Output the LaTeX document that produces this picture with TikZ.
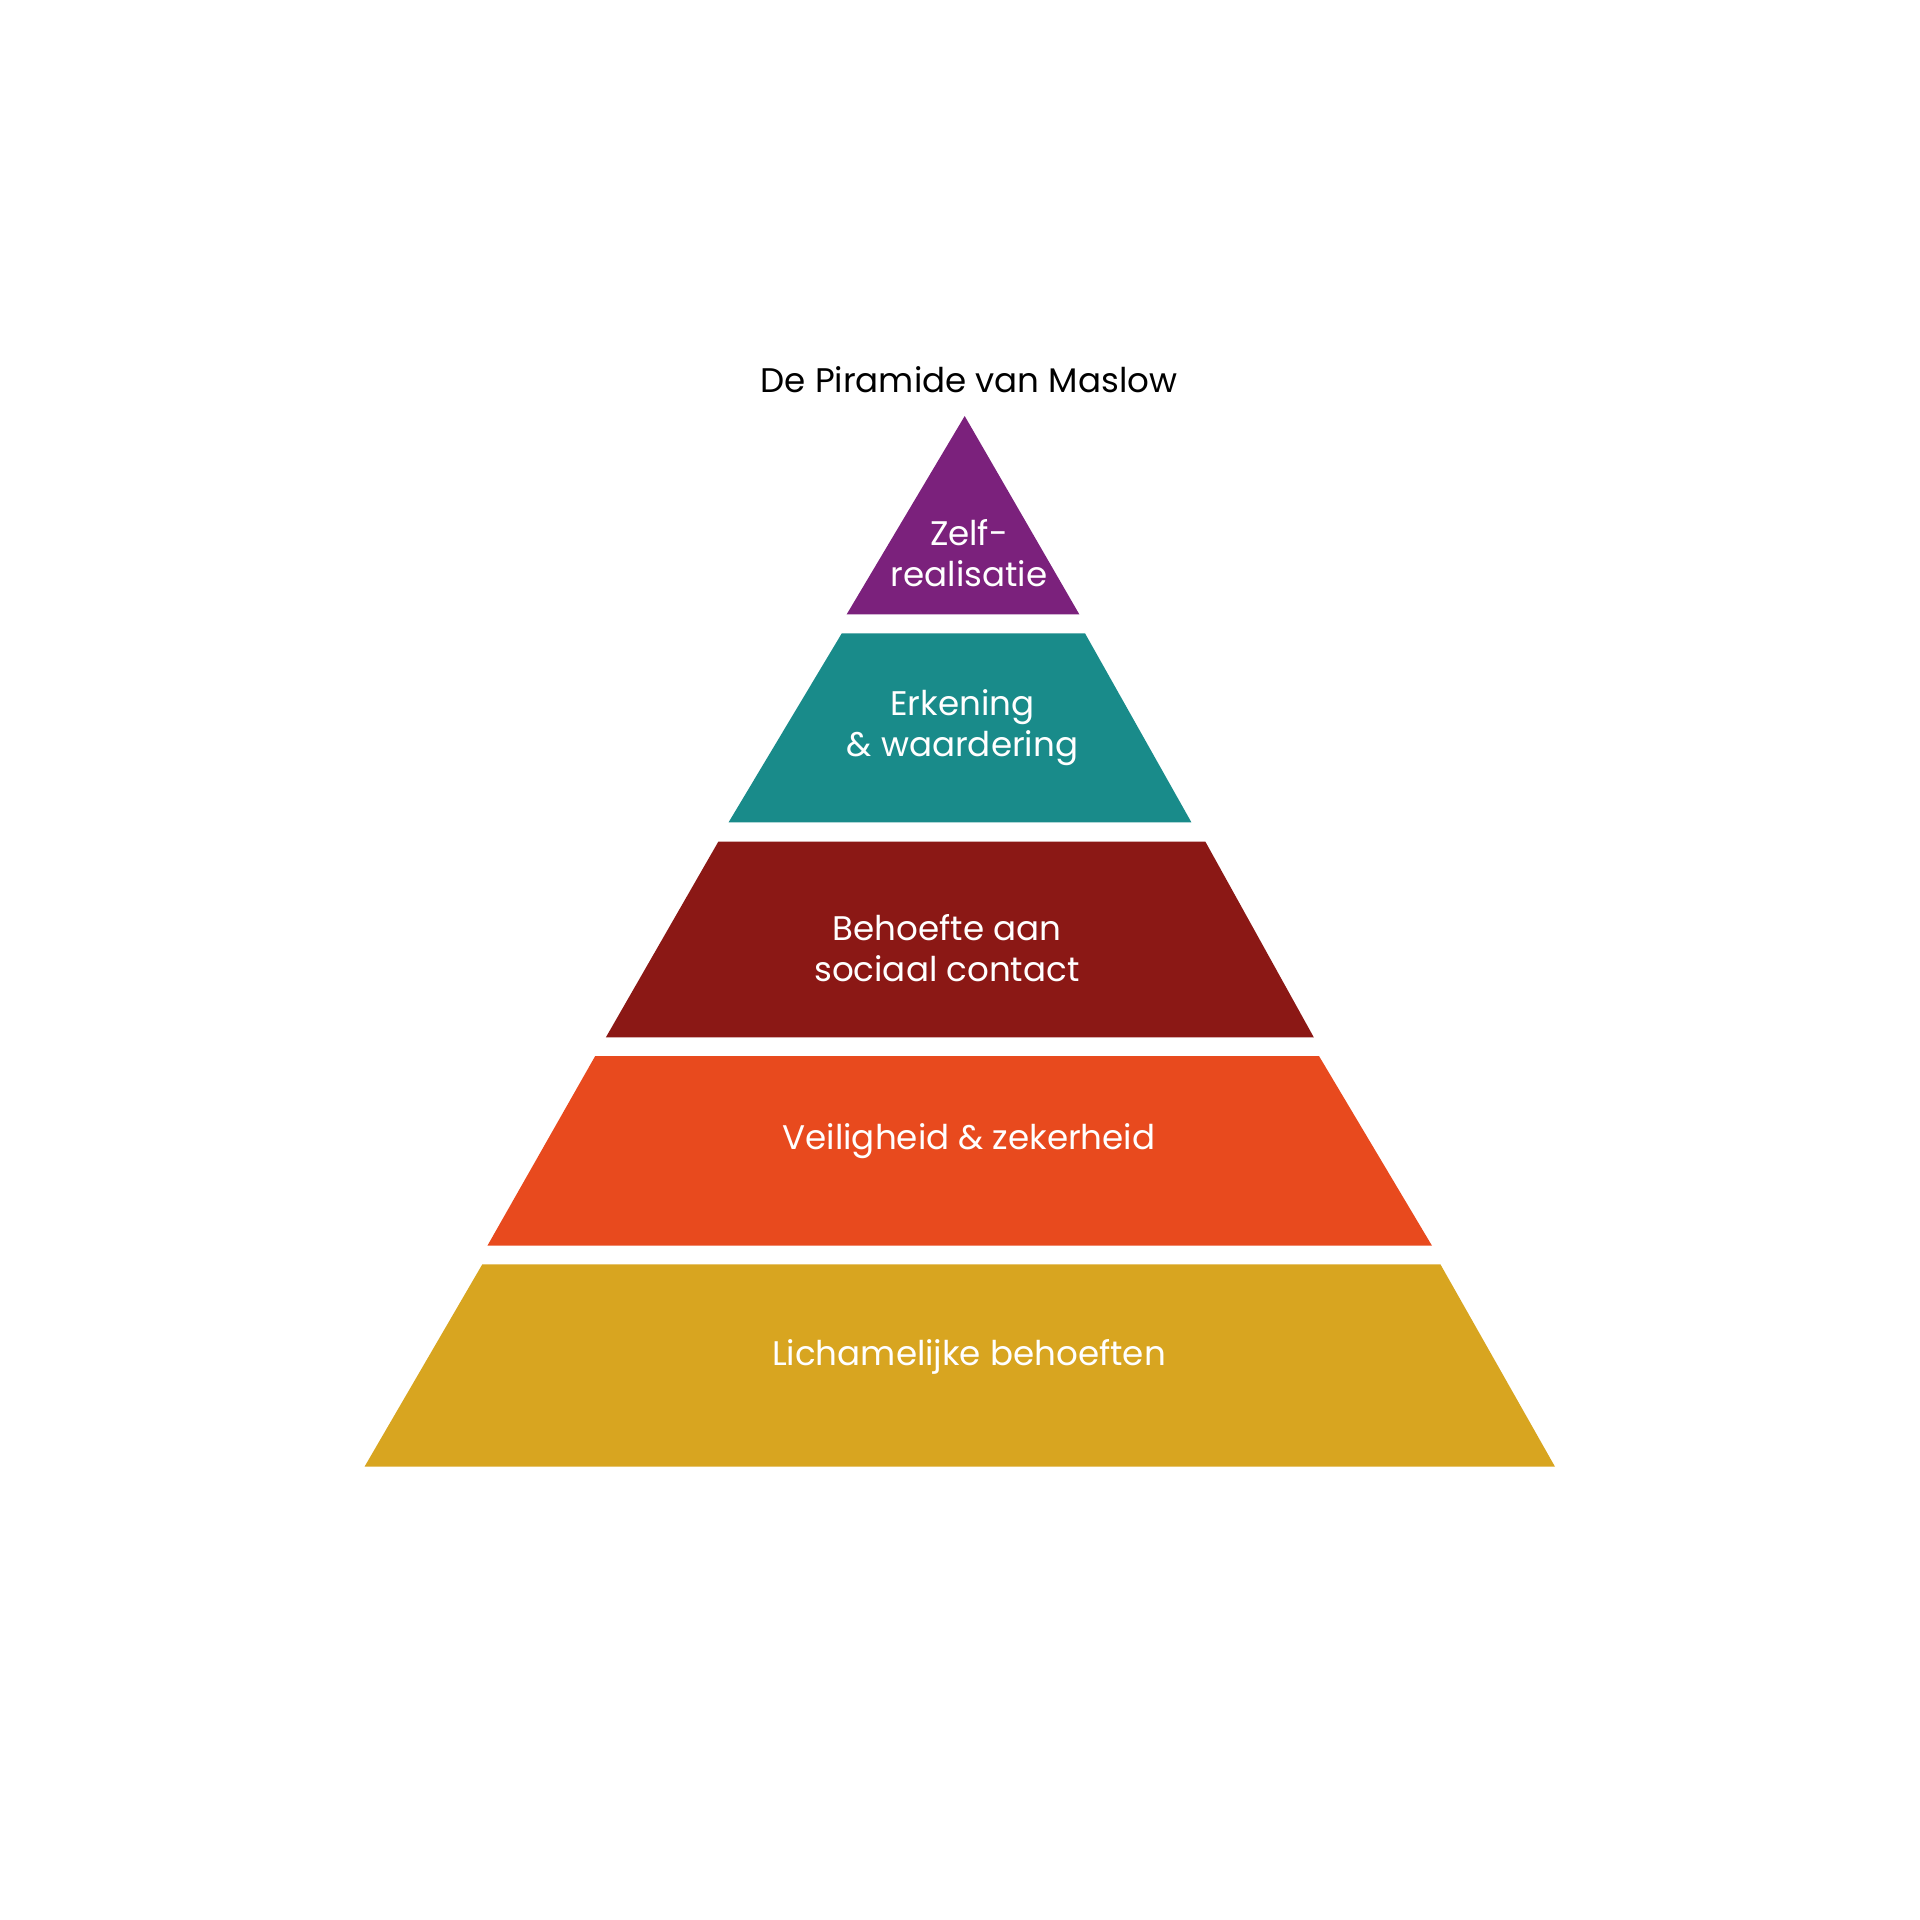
\documentclass[tikz,border=0pt]{standalone}
\usepackage{fontspec}
\setmainfont{Poppins}
\usepackage{xcolor}
\definecolor{mslpurple}{HTML}{7B217C}
\definecolor{mslteal}{HTML}{198B8A}
\definecolor{mslred}{HTML}{8B1815}
\definecolor{mslorange}{HTML}{E84A1E}
\definecolor{mslyellow}{HTML}{D8A520}
\usepackage{tikz}
\usetikzlibrary{positioning}

\begin{document}
\begin{tikzpicture}[x=0.01cm,y=-0.01cm,
  lbl/.style={inner sep=0pt,anchor=base,align=center,text=white,
    font=\fontsize{9.7}{11.7}\selectfont}]
\useasboundingbox (0,0) rectangle (1920,1920);
% title
\node[lbl,text=black] (title) at (969,392.7) {De Piramide van Maslow};
% layers, top to bottom
\fill[mslpurple] (964.7,416) -- (1079.3,614.3) -- (846.7,614.3) -- cycle;
\fill[mslteal] (841.8,633.3) -- (1085,633.3) -- (1191.4,822.3) -- (728.6,822.3) -- cycle;
\fill[mslred] (718.3,841.7) -- (1205.4,841.7) -- (1313.8,1037.3) -- (605.9,1037.3) -- cycle;
\fill[mslorange] (595.2,1056) -- (1319,1056) -- (1432,1245.7) -- (487.4,1245.7) -- cycle;
\fill[mslyellow] (482.3,1264.3) -- (1440.4,1264.3) -- (1555,1466.7) -- (364.5,1466.7) -- cycle;
% labels (base = last line)
\node[lbl] (zelf) at (969,586.7) {Zelf-\\realisatie};
\node[lbl] (erkening) at (962.5,756.7) {Erkening\\\& waardering};
\node[lbl] (sociaal) at (946.9,981.7) {Behoefte aan\\sociaal contact};
\node[lbl] (veilig) at (969,1149) {Veiligheid \& zekerheid};
\node[lbl] (lichaam) at (969,1365.7) {Lichamelijke behoeften};
\end{tikzpicture}
\end{document}
